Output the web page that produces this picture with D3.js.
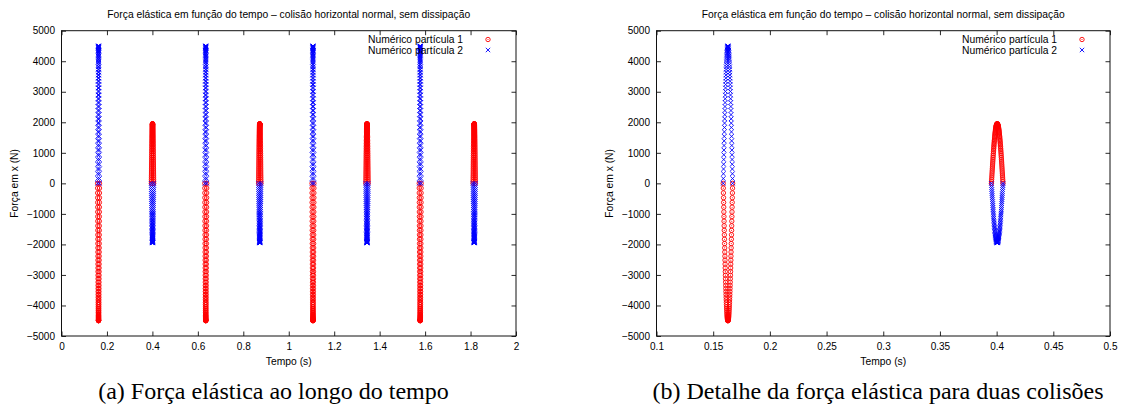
<!DOCTYPE html>
<html><head><meta charset="utf-8">
<script src="https://cdn.jsdelivr.net/npm/d3@7"></script>
<style>body{margin:0;background:#fff}svg{display:block}</style>
</head><body><svg id="c" width="1121" height="412"></svg>
<script>
// ---------- data ----------
const chartTitle = "Força elástica em função do tempo – colisão horizontal normal, sem dissipação";
const seriesNames = ["Numérico partícula 1", "Numérico partícula 2"];
const xLabel = "Tempo (s)";
const yLabel = "Força em x (N)";
const captions = ["(a) Força elástica ao longo do tempo", "(b) Detalhe da força elástica para duas colisões"];

const forceTicks = [-5000, -4000, -3000, -2000, -1000, 0, 1000, 2000, 3000, 4000, 5000];
const timeTicksA = [0, 0.2, 0.4, 0.6, 0.8, 1, 1.2, 1.4, 1.6, 1.8, 2];
const timeTicksB = [0.1, 0.15, 0.2, 0.25, 0.3, 0.35, 0.4, 0.45, 0.5];

// collision instants (s)
const bigCollisionCenters = [0.1630, 0.6348, 1.1066, 1.5784];   // particle 2 pushed +, particle 1 pushed −
const smallCollisionCenters = [0.4005, 0.8724, 1.3443, 1.8162]; // particle 1 pushed +, particle 2 pushed −
const bigCollisionDuration = 0.0083;
const smallCollisionDuration = 0.0102;

const bigContactForce = [0, 157, 314, 470, 626, 781, 936, 1089, 1240, 1391, 1539, 1686, 1830, 1973, 2113, 2250, 2385, 2516, 2645, 2771, 2893, 3011, 3126, 3237, 3344, 3447, 3546, 3641, 3731, 3816, 3897, 3973, 4045, 4111, 4172, 4229, 4280, 4326, 4366, 4401, 4432, 4456, 4475, 4489, 4497, 4500,
  4497, 4489, 4475, 4456, 4432, 4401, 4366, 4326, 4280, 4229, 4172, 4111, 4045, 3973, 3897, 3816, 3731, 3641, 3546, 3447, 3344, 3237, 3126, 3011, 2893, 2771, 2645, 2516, 2385, 2250, 2113, 1973, 1830, 1686, 1539, 1391, 1240, 1089, 936, 781, 626, 470, 314, 157, 0];
const smallContactForce = [0, 68, 136, 204, 271, 339, 405, 472, 537, 603, 667, 730, 793, 855, 916, 975, 1033, 1090, 1146, 1201, 1253, 1305, 1355, 1403, 1449, 1494, 1537, 1578, 1617, 1654, 1689, 1722, 1753, 1781, 1808, 1832, 1855, 1875, 1892, 1907, 1920, 1931, 1939, 1945, 1949, 1950,
  1949, 1945, 1939, 1931, 1920, 1907, 1892, 1875, 1855, 1832, 1808, 1781, 1753, 1722, 1689, 1654, 1617, 1578, 1537, 1494, 1449, 1403, 1355, 1305, 1253, 1201, 1146, 1090, 1033, 975, 916, 855, 793, 730, 667, 603, 537, 472, 405, 339, 271, 204, 136, 68, 0];

// ---------- build point lists ----------
function contactPoints(center, duration, forces, sign) {
  const n = forces.length - 1;
  return forces.map((f, k) => ({ t: center - duration / 2 + k * duration / n, f: sign * f }));
}
const p1 = [], p2 = [];
bigCollisionCenters.forEach(c => {
  p1.push(...contactPoints(c, bigCollisionDuration, bigContactForce, -1));
  p2.push(...contactPoints(c, bigCollisionDuration, bigContactForce, 1));
});
smallCollisionCenters.forEach(c => {
  p1.push(...contactPoints(c, smallCollisionDuration, smallContactForce, 1));
  p2.push(...contactPoints(c, smallCollisionDuration, smallContactForce, -1));
});

// ---------- drawing ----------
const svg = d3.select("#c");
const SANS = "'Liberation Sans', Arial, Helvetica, sans-serif";
const SERIF = "'Liberation Serif', 'Times New Roman', serif";
const RED = "#ff0000", BLUE = "#0000ff";
const fmt = d3.format("~g");

const panels = [
  { id: "a", left: 61.5, right: 516, domain: [0, 2], ticks: timeTicksA, caption: captions[0], capX: 273.5 },
  { id: "b", left: 656.5, right: 1110, domain: [0.1, 0.5], ticks: timeTicksB, caption: captions[1], capX: 878 }
];
const plotTop = 30.7, plotBottom = 336;

function drawCircle(g, x, y) {
  g.append("circle").attr("cx", x).attr("cy", y).attr("r", 2.2)
    .attr("fill", "none").attr("stroke", RED).attr("stroke-width", 0.9);
  g.append("circle").attr("cx", x).attr("cy", y).attr("r", 0.55).attr("fill", RED);
}
function crossPath(x, y) {
  const s = 2.2;
  return `M${x - s},${y - s}L${x + s},${y + s}M${x - s},${y + s}L${x + s},${y - s}`;
}

panels.forEach(p => {
  const x = d3.scaleLinear().domain(p.domain).range([p.left, p.right]);
  const y = d3.scaleLinear().domain([-5000, 5000]).range([plotBottom, plotTop]);
  const g = svg.append("g");
  const w = p.right - p.left, h = plotBottom - plotTop;

  g.append("clipPath").attr("id", "clip" + p.id).append("rect")
    .attr("x", p.left).attr("y", plotTop).attr("width", w).attr("height", h);

  const tl = 4.5;
  const ax = [
    g.append("g").attr("transform", `translate(0,${plotBottom})`)
      .call(d3.axisBottom(x).tickValues(p.ticks).tickSize(-tl).tickPadding(7).tickFormat(fmt)),
    g.append("g").attr("transform", `translate(0,${plotTop})`)
      .call(d3.axisTop(x).tickValues(p.ticks).tickSize(-tl).tickFormat("")),
    g.append("g").attr("transform", `translate(${p.left},0)`)
      .call(d3.axisLeft(y).tickValues(forceTicks).tickSize(-tl).tickPadding(6.5).tickFormat(fmt)),
    g.append("g").attr("transform", `translate(${p.right},0)`)
      .call(d3.axisRight(y).tickValues(forceTicks).tickSize(-tl).tickFormat(""))
  ];
  ax.forEach(a => {
    a.select(".domain").remove();
    a.selectAll(".tick line").attr("stroke", "#111").attr("stroke-width", 0.9);
    a.selectAll("text").attr("font-family", SANS).attr("font-size", 10).attr("fill", "#000");
  });

  const dg = g.append("g").attr("clip-path", `url(#clip${p.id})`);
  const dom = p.domain;
  const inView = d => d.t >= dom[0] - 0.01 && d.t <= dom[1] + 0.01;
  const g1 = dg.append("g");
  p1.filter(inView).forEach(d => drawCircle(g1, x(d.t), y(d.f)));
  dg.append("path")
    .attr("d", p2.filter(inView).map(d => crossPath(x(d.t), y(d.f))).join(""))
    .attr("fill", "none").attr("stroke", BLUE).attr("stroke-width", 0.9);

  g.append("rect").attr("x", p.left).attr("y", plotTop).attr("width", w).attr("height", h)
    .attr("fill", "none").attr("stroke", "#111").attr("stroke-width", 1);

  g.append("text").attr("x", (p.left + p.right) / 2).attr("y", 17.5).attr("text-anchor", "middle")
    .attr("font-family", SANS).attr("font-size", 10.3).text(chartTitle);
  g.append("text").attr("x", (p.left + p.right) / 2).attr("y", 365).attr("text-anchor", "middle")
    .attr("font-family", SANS).attr("font-size", 10.3).text(xLabel);
  g.append("text").attr("transform", `translate(${p.left - 44},${(plotTop + plotBottom) / 2}) rotate(-90)`)
    .attr("text-anchor", "middle").attr("font-family", SANS).attr("font-size", 10.3).text(yLabel);

  const lx = p.right - 53, mx = p.right - 28;
  [39.5, 50].forEach((ly, i) => {
    g.append("text").attr("x", lx).attr("y", ly + 3.6).attr("text-anchor", "end")
      .attr("font-family", SANS).attr("font-size", 10.3).text(seriesNames[i]);
    if (i === 0) drawCircle(g, mx, ly);
    else g.append("path").attr("d", crossPath(mx, ly)).attr("fill", "none")
      .attr("stroke", BLUE).attr("stroke-width", 0.9);
  });

  g.append("text").attr("x", p.capX).attr("y", 399).attr("text-anchor", "middle")
    .attr("font-family", SERIF).attr("font-size", 24).text(p.caption);
});
</script></body></html>
